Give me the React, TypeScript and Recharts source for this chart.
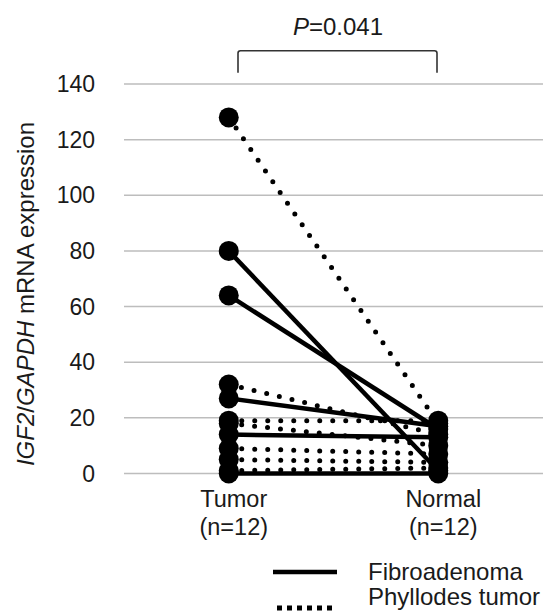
import React from 'react';
import { LineChart, Line, XAxis, YAxis, CartesianGrid, Legend, Customized } from 'recharts';

const categories = ['Tumor', 'Normal'];
const groupSizes = ['(n=12)', '(n=12)'];

// paired samples: value in tumor tissue and in matched normal tissue
const fibroTumor = [80, 64, 27, 14, 0];
const fibroNormal = [1, 16, 17, 13, 0];
const phylloTumor = [128, 32, 19, 18, 9, 5, 1];
const phylloNormal = [18, 14, 19, 10, 7, 4, 2];

const yTicks = [0, 20, 40, 60, 80, 100, 120, 140];
const pValue = '0.041';

const FONT = '"Liberation Sans", Arial, sans-serif';
const INK = '#000';
const TEXT = '#1a1a1a';
const DOTTED = '0 13';

const data = categories.map((name, i) => {
  const row: Record<string, string | number> = { name };
  fibroTumor.forEach((v, k) => {
    row[`f${k}`] = i === 0 ? v : fibroNormal[k];
  });
  phylloTumor.forEach((v, k) => {
    row[`p${k}`] = i === 0 ? v : phylloNormal[k];
  });
  return row;
});

const CategoryTick = (props: any) => {
  const { x, y, payload, index } = props;
  const cx = x + 5;
  return (
    <text x={cx} y={y} textAnchor="middle" fill={TEXT} fontFamily={FONT} fontSize={23.5}>
      <tspan x={cx} dy={33}>{payload.value}</tspan>
      <tspan x={cx} dy={28}>{groupSizes[index]}</tspan>
    </text>
  );
};

const YLabel = () => (
  <text
    x={25}
    y={294}
    transform="rotate(-90 25 294)"
    textAnchor="middle"
    dominantBaseline="central"
    fill={TEXT}
    fontFamily={FONT}
    fontSize={24}
  >
    <tspan fontStyle="italic">IGF2</tspan>/<tspan fontStyle="italic">GAPDH</tspan> mRNA expression
  </text>
);

const Significance = () => (
  <g>
    <text x={338} y={35} textAnchor="middle" fill={TEXT} fontFamily={FONT} fontSize={24}>
      <tspan fontStyle="italic">P</tspan>={pValue}
    </text>
    <path
      d="M238,72.7 L238,53.2 Q238,50.7 240.5,50.7 L434.5,50.7 Q437,50.7 437,53.2 L437,72.7"
      fill="none"
      stroke="#333"
      strokeWidth={1.6}
    />
  </g>
);

const legendItems = [
  { label: 'Fibroadenoma', dash: undefined as string | undefined },
  { label: 'Phyllodes tumor', dash: '5 5' },
];

const LegendContent = () => (
  <svg width={546} height={66} style={{ display: 'block' }}>
    <line x1={273} x2={337} y1={22} y2={22} stroke={INK} strokeWidth={4.5} />
    <text x={368} y={30} fill={TEXT} fontFamily={FONT} fontSize={24}>
      {legendItems[0].label}
    </text>
    <line x1={277} x2={332} y1={58} y2={58} stroke={INK} strokeWidth={5} strokeDasharray={legendItems[1].dash} />
    <text x={368} y={55} fill={TEXT} fontFamily={FONT} fontSize={24}>
      {legendItems[1].label}
    </text>
  </svg>
);

export default function App() {
  return (
    <div style={{ position: 'absolute', left: 0, top: 0, background: '#fff' }}>
      <LineChart width={546} height={616} data={data} margin={{ top: 84, right: 3, bottom: 82.5, left: 0 }}>
        <CartesianGrid vertical={false} stroke="#bdbdbd" strokeWidth={1.5} />
        <XAxis
          dataKey="name"
          height={60}
          padding={{ left: 104.75, right: 104.75 }}
          axisLine={false}
          tickLine={false}
          tickSize={0}
          tickMargin={0}
          interval={0}
          tick={<CategoryTick />}
        />
        <YAxis
          width={124}
          domain={[0, 140]}
          ticks={yTicks}
          axisLine={false}
          tickLine={false}
          tickSize={0}
          tickMargin={29}
          tick={{ fill: TEXT, fontFamily: FONT, fontSize: 23 }}
          label={{ content: <YLabel /> }}
        />
        {fibroTumor.map((_, k) => (
          <Line
            key={`f${k}`}
            dataKey={`f${k}`}
            name="Fibroadenoma"
            stroke={INK}
            strokeWidth={4.5}
            dot={{ r: 10, fill: INK, strokeWidth: 0 }}
            activeDot={false}
            legendType={k === 0 ? 'line' : 'none'}
            isAnimationActive={false}
          />
        ))}
        {phylloTumor.map((_, k) => (
          <Line
            key={`p${k}`}
            dataKey={`p${k}`}
            name="Phyllodes tumor"
            stroke={INK}
            strokeWidth={5}
            strokeDasharray={DOTTED}
            strokeLinecap="round"
            dot={{ r: 10, fill: INK, strokeWidth: 0 }}
            activeDot={false}
            legendType={k === 0 ? 'line' : 'none'}
            isAnimationActive={false}
          />
        ))}
        <Customized component={<Significance />} />
        <Legend
          layout="vertical"
          align="center"
          verticalAlign="middle"
          content={<LegendContent />}
          wrapperStyle={{ position: 'absolute', left: 0, top: 550, width: 546, height: 66 }}
        />
      </LineChart>
    </div>
  );
}
